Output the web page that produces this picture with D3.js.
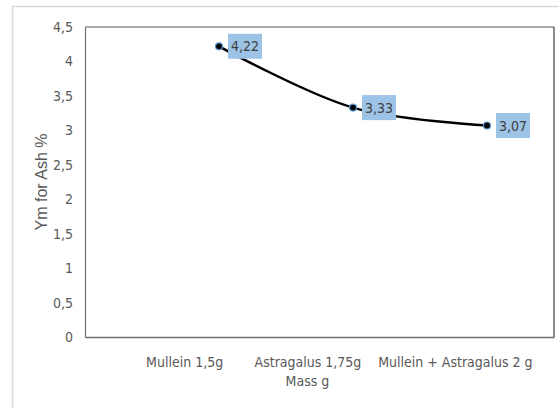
<!DOCTYPE html>
<html>
<head>
<meta charset="utf-8">
<script src="https://cdn.jsdelivr.net/npm/d3@7/dist/d3.min.js"></script>
<style>
  body { margin: 0; background: #fff; }
  text { font-family: "DejaVu Sans Condensed", "Liberation Sans Narrow", "Liberation Sans", sans-serif; }
</style>
</head>
<body>
<div id="chart"></div>
<script>
// data
const categories = ["Mullein 1,5g", "Astragalus 1,75g", "Mullein + Astragalus 2 g"];
const xValues = [1, 2, 3];
const ashValues = [4.22, 3.33, 3.07];
const labelAt = [0.74, 1.66, 2.76]; // where Excel put the category text
const yTicks = [0, 0.5, 1, 1.5, 2, 2.5, 3, 3.5, 4, 4.5];

const width = 559, height = 408;
const margin = { top: 27, right: 5, bottom: 71, left: 85 };

const fmt = v => String(v).replace(".", ",");

const svg = d3.select("#chart")
  .append("svg")
    .attr("width", width)
    .attr("height", height);

// outer chart frame
svg.append("rect")
  .attr("x", 12.5).attr("y", 6.5)
  .attr("width", width).attr("height", height)
  .attr("fill", "none")
  .attr("stroke", "#d9d9d9")
  .attr("stroke-width", 1.5);

const x = d3.scaleLinear()
  .domain([0, 3.5])
  .range([margin.left, width - margin.right]);

const y = d3.scaleLinear()
  .domain([0, 4.5])
  .range([height - margin.bottom, margin.top]);

// plot frame
svg.append("line")
  .attr("x1", x(0)).attr("x2", x(3.5))
  .attr("y1", y(4.5)).attr("y2", y(4.5))
  .attr("stroke", "#8c8c8c").attr("stroke-width", 1.5);
svg.append("line")
  .attr("x1", x(3.5)).attr("x2", x(3.5))
  .attr("y1", y(4.5)).attr("y2", y(0))
  .attr("stroke", "#404040").attr("stroke-width", 1.2);

// y axis
const yAxis = d3.axisLeft(y)
  .tickValues(yTicks)
  .tickSize(0)
  .tickPadding(12)
  .tickFormat(fmt);
const gy = svg.append("g")
  .attr("transform", `translate(${margin.left}, 0)`)
  .call(yAxis);
gy.select(".domain").attr("stroke", "#6e6e6e").attr("stroke-width", 1.2);
gy.selectAll("text")
  .attr("fill", "#595959")
  .attr("font-size", 14);

// x axis
const xAxis = d3.axisBottom(x)
  .tickValues(labelAt)
  .tickSize(0)
  .tickPadding(20)
  .tickFormat((d, i) => categories[i]);
const gx = svg.append("g")
  .attr("transform", `translate(0, ${y(0)})`)
  .call(xAxis);
gx.select(".domain").attr("stroke", "#6e6e6e").attr("stroke-width", 1.5);
gx.selectAll("text")
  .attr("fill", "#595959")
  .attr("font-size", 14);

// axis titles
svg.append("text")
  .attr("x", x(1.66))
  .attr("y", 386)
  .attr("text-anchor", "middle")
  .attr("fill", "#595959")
  .attr("font-size", 14)
  .text("Mass g");

svg.append("text")
  .attr("transform", `translate(47, ${(y(0) + y(4.5)) / 2}) rotate(-90)`)
  .attr("text-anchor", "middle")
  .attr("fill", "#595959")
  .attr("font-size", 16)
  .style("font-family", "'Liberation Sans', sans-serif")
  .text("Ym for Ash %");

// the series
const pts = xValues.map((v, i) => [v, ashValues[i]]);
const lineGen = d3.line()
  .x(d => x(d[0]))
  .y(d => y(d[1]))
  .curve(d3.curveCatmullRom.alpha(0.5));

svg.append("path")
  .datum(pts)
  .attr("fill", "none")
  .attr("stroke", "#000")
  .attr("stroke-width", 2.5)
  .attr("d", lineGen);

svg.append("g")
  .selectAll("circle")
  .data(pts)
  .join("circle")
    .attr("cx", d => x(d[0]))
    .attr("cy", d => y(d[1]))
    .attr("r", 3.5)
    .attr("fill", "#000")
    .attr("stroke", "#5b9bd5")
    .attr("stroke-width", 1.2);

// data labels
const lab = svg.append("g")
  .selectAll("g")
  .data(pts)
  .join("g")
    .attr("transform", d => `translate(${x(d[0]) + 9}, ${y(d[1])})`);

lab.append("rect")
  .attr("x", 0).attr("y", -12.5)
  .attr("width", 34).attr("height", 25)
  .attr("fill", "#9dc3e6");

lab.append("text")
  .attr("x", 17).attr("y", 5)
  .attr("text-anchor", "middle")
  .attr("fill", "#404040")
  .attr("font-size", 14)
  .text(d => fmt(d[1]));
</script>
</body>
</html>
